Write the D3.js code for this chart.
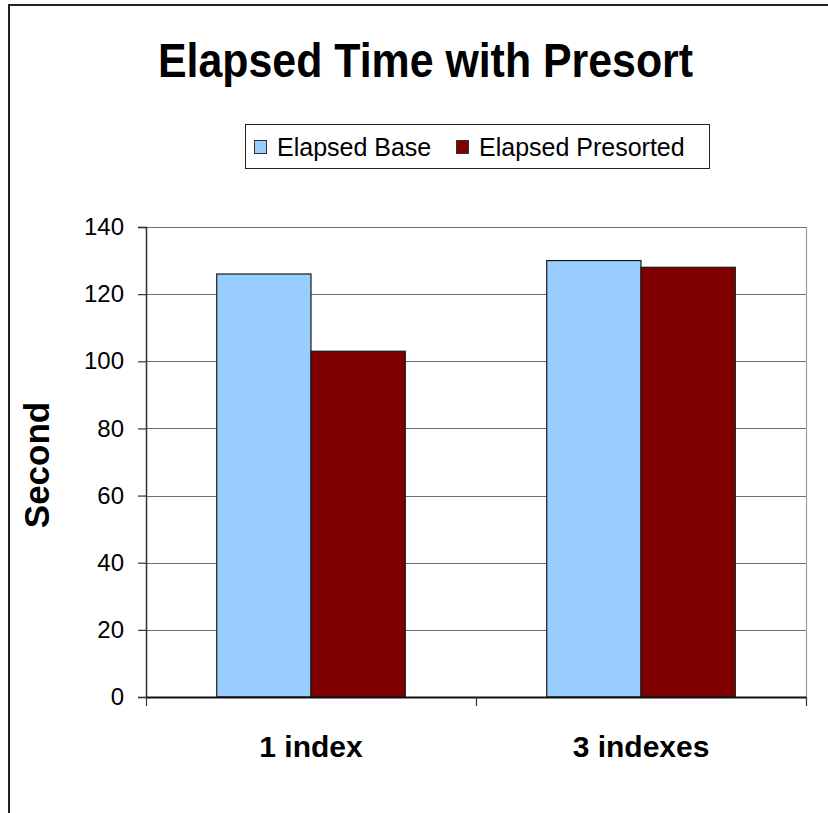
<!DOCTYPE html>
<html>
<head>
<meta charset="utf-8">
<script src="https://cdn.jsdelivr.net/npm/d3@7"></script>
<style>
  html, body { margin: 0; padding: 0; background: #fff; }
  svg { display: block; font-family: "Liberation Sans", Arial, sans-serif; }
</style>
</head>
<body>
<svg id="chart" width="828" height="813"></svg>
<script>
// Chart data
const categories = ["1 index", "3 indexes"];
const seriesNames = ["Elapsed Base", "Elapsed Presorted"];
const elapsedBase = [126, 130];
const elapsedPresorted = [103, 128];
const yTicks = [0, 20, 40, 60, 80, 100, 120, 140];
const seriesColors = ["#99ccff", "#800000"];

const svg = d3.select("#chart");
const W = 828, H = 813;
const plot = { left: 146, right: 806, top: 227, bottom: 697 };

// Outer frame (top and left edges only)
svg.append("path")
  .attr("d", `M9,${H} L9,5 L${W},5`)
  .attr("fill", "none").attr("stroke", "#222").attr("stroke-width", 2);

// Title
svg.append("text")
  .attr("x", 158).attr("y", 77)
  .attr("font-size", 48).attr("font-weight", "bold")
  .attr("textLength", 535).attr("lengthAdjust", "spacingAndGlyphs")
  .text("Elapsed Time with Presort");

// Scales
const y = d3.scaleLinear().domain([0, 140]).range([plot.bottom, plot.top]);
const x0 = d3.scaleBand().domain(categories).range([plot.left, plot.right]).paddingInner(0).paddingOuter(0);
const barW = x0.bandwidth() / (2 + 1.5);
const x1 = d3.scaleBand().domain(seriesNames).range([0, barW * 2]);
const groupOffset = (x0.bandwidth() - barW * 2) / 2;

// Grid lines
svg.append("g").selectAll("line").data(yTicks.filter(d => d > 0)).join("line")
  .attr("x1", plot.left).attr("x2", plot.right)
  .attr("y1", d => Math.round(y(d)) + 0.5).attr("y2", d => Math.round(y(d)) + 0.5)
  .attr("stroke", "#6e6e6e").attr("stroke-width", 1.2);

// Right plot border
svg.append("line")
  .attr("x1", plot.right + 0.5).attr("x2", plot.right + 0.5)
  .attr("y1", plot.top).attr("y2", plot.bottom)
  .attr("stroke", "#9a9a9a").attr("stroke-width", 1.2);

// Bars
const rows = categories.map((c, i) => ({ cat: c, vals: [elapsedBase[i], elapsedPresorted[i]] }));
const groups = svg.append("g").selectAll("g").data(rows).join("g")
  .attr("transform", d => `translate(${x0(d.cat) + groupOffset},0)`);
groups.selectAll("rect").data(d => d.vals.map((v, k) => ({ v, k }))).join("rect")
  .attr("x", d => x1(seriesNames[d.k]))
  .attr("y", d => y(d.v))
  .attr("width", x1.bandwidth())
  .attr("height", d => y(0) - y(d.v))
  .attr("fill", d => seriesColors[d.k])
  .attr("stroke", "#1a1a1a").attr("stroke-width", 1.2);

// Y axis
const yAxis = d3.axisLeft(y).tickValues(yTicks).tickSize(8).tickPadding(14);
const gy = svg.append("g").attr("transform", `translate(${plot.left},0)`).call(yAxis);
gy.select(".domain").attr("stroke", "#333").attr("stroke-width", 1.5);
gy.selectAll(".tick line").attr("stroke", "#333").attr("stroke-width", 1.2);
gy.selectAll(".tick text")
  .attr("font-size", 24).attr("font-family", "Liberation Sans, Arial, sans-serif").attr("fill", "#000");

// X axis
const xAxis = d3.axisBottom(x0).tickSize(0).tickPadding(39);
const gx = svg.append("g").attr("transform", `translate(0,${plot.bottom})`).call(xAxis);
gx.select(".domain").attr("stroke", "#111").attr("stroke-width", 1.8);
gx.selectAll(".tick text")
  .attr("font-size", 30).attr("font-weight", "bold")
  .attr("font-family", "Liberation Sans, Arial, sans-serif").attr("fill", "#000");
// Category boundary tick marks
const bounds = [plot.left, x0(categories[1]), plot.right];
svg.append("g").selectAll("line").data(bounds).join("line")
  .attr("x1", d => d + 0.5).attr("x2", d => d + 0.5)
  .attr("y1", plot.bottom).attr("y2", plot.bottom + 9)
  .attr("stroke", "#333").attr("stroke-width", 1.2);

// Y axis title
svg.append("text")
  .attr("transform", "translate(49,465) rotate(-90)")
  .attr("text-anchor", "middle")
  .attr("font-size", 35).attr("font-weight", "bold")
  .text("Second");

// Legend
const lg = svg.append("g");
lg.append("rect")
  .attr("x", 245.5).attr("y", 124.5).attr("width", 464).attr("height", 44)
  .attr("fill", "#fff").attr("stroke", "#222").attr("stroke-width", 1);
const legendX = [254, 456];
seriesNames.forEach((name, k) => {
  lg.append("rect")
    .attr("x", legendX[k] + 0.5).attr("y", 140.5).attr("width", 12).attr("height", 13)
    .attr("fill", seriesColors[k]).attr("stroke", "#333").attr("stroke-width", 1);
  lg.append("text")
    .attr("x", legendX[k] + 23).attr("y", 156)
    .attr("font-size", 25)
    .text(name);
});
</script>
</body>
</html>
